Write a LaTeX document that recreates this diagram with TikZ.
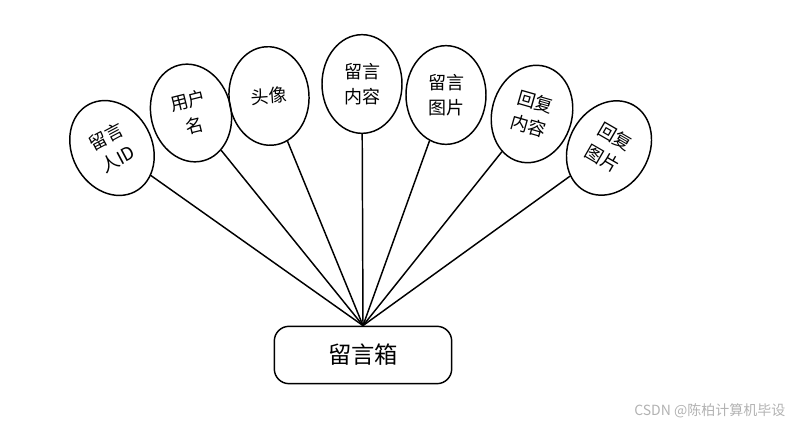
\documentclass[tikz,border=0pt]{standalone}
\usepackage{fontspec}
\setmainfont{Noto Sans CJK SC}
\usetikzlibrary{shapes.geometric, positioning}

\begin{document}
\begin{tikzpicture}[x=0.75pt, y=-0.75pt,
    attr/.style={draw, ellipse, line width=1.1pt, minimum width=60pt, minimum height=74pt,
                 inner sep=0pt, align=center, font=\fontsize{13.5}{19}\selectfont},
    link/.style={line width=1.1pt}]
    \useasboundingbox (0,0) rectangle (801,427);

    \node[attr, rotate=28]  (author)   at (112,148) {留言\\人ID};
    \node[attr, rotate=14]  (username) at (191,113) {用户\\名};
    \node[attr, rotate=4]   (avatar)   at (269, 96) {头像};
    \node[attr]             (content)  at (362, 84) {留言\\内容};
    \node[attr]             (picture)  at (446, 95) {留言\\图片};
    \node[attr, rotate=-16] (rcontent) at (532,114) {回复\\内容};
    \node[attr, rotate=-30] (rpicture) at (609,148) {回复\\图片};

    \node[draw, rounded corners=11pt, line width=1.1pt, minimum width=133pt, minimum height=43pt,
          font=\fontsize{17.5}{20}\selectfont] (box) at (363,355) {留言箱};

    \foreach \n in {author, username, avatar, content, picture, rcontent, rpicture}
        \draw[link] (\n) -- (box.north);

    \node[text=black!30, font=\fontsize{10.5}{12}\selectfont, anchor=east] (mark) at (790,411) {CSDN @陈柏计算机毕设};
\end{tikzpicture}
\end{document}
